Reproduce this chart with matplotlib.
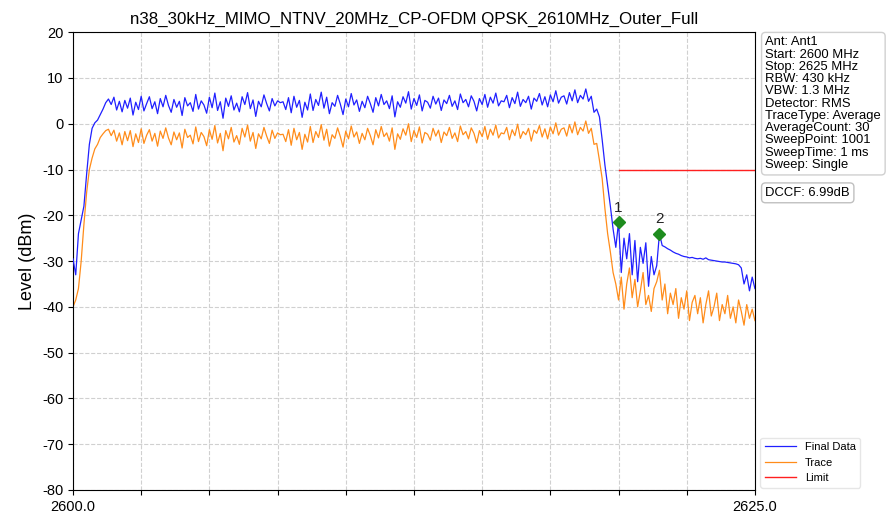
import numpy as np
import matplotlib
matplotlib.use("Agg")
import matplotlib.pyplot as plt

plt.rcParams['font.family'] = ['Liberation Sans', 'DejaVu Sans']
plt.rcParams['axes.unicode_minus'] = False

title = "n38_30kHz_MIMO_NTNV_20MHz_CP-OFDM QPSK_2610MHz_Outer_Full"

# sweep grid, 0.1 MHz steps from 2600 to 2625 MHz
freq = np.linspace(2600.0, 2625.0, 251)

# Final Data (dBm)
final_data = [
    -29.5, -33.0, -24.0, -21.0, -18.0, -11.0, -4.5, -1.0, 0.2, 0.8,
    2.0, 3.2, 4.6, 5.4, 4.2, 5.8, 3.0, 4.9, 2.6, 5.1,
    3.4, 5.6, 1.9, 4.7, 3.1, 6.0, 2.8, 4.4, 5.9, 3.3,
    4.8, 2.2, 5.5, 3.7, 6.2, 4.0, 2.5, 5.3, 3.6, 4.9,
    1.8, 5.7, 3.9, 4.6, 2.7, 6.4, 3.2, 5.0, 4.1, 2.3,
    5.8, 3.5, 6.7, 2.9, 4.8, 1.2, 5.6, 3.8, 6.1, 3.0,
    4.5, 2.6, 5.9, 4.2, 6.8, 3.3, 5.2, 1.6, 4.9, 3.7,
    6.3, 4.4, 2.8, 5.5, 3.9, 5.0, 4.6, 4.8, 3.1, 5.7,
    2.4, 6.0, 3.6, 5.1, 1.4, 4.7, 3.0, 6.5, 2.9, 5.3,
    4.0, 6.9, 3.4, 5.8, 2.2, 4.6, 3.8, 6.2, 4.3, 2.0,
    5.4, 3.7, 6.6, 4.1, 5.2, 2.7, 4.9, 3.5, 6.0, 4.4,
    2.5, 5.7, 3.9, 6.4, 4.2, 5.0, 3.3, 6.1, 1.5, 4.8,
    3.6, 5.9, 4.5, 7.0, 3.2, 5.5, 4.0, 6.3, 2.8, 5.1,
    4.7, 3.4, 6.0, 4.3, 5.6, 2.9, 5.2, 4.4, 6.2, 3.8,
    5.0, 3.1, 6.5, 4.6, 5.3, 3.7, 6.1, 4.9, 2.8, 5.5,
    4.2, 6.4, 3.6, 5.8, 4.5, 6.7, 3.9, 5.0, 4.8, 6.2,
    3.5, 5.7, 4.4, 6.9, 3.8, 5.3, 4.6, 6.0, 3.2, 5.6,
    4.9, 6.6, 4.1, 5.9, 3.7, 6.3, 4.8, 7.2, 4.5, 5.8,
    6.1, 4.3, 6.8, 5.0, 7.4, 4.6, 6.2, 5.4, 7.6, 4.9,
    6.0, 2.5, 3.2, 1.5, -3.5, -9.0, -13.5, -18.0, -23.0, -27.0,
    -21.5, -32.5, -25.0, -29.5, -24.0, -33.0, -25.5, -34.5, -27.0, -30.5,
    -26.0, -35.5, -29.0, -33.0, -31.0, -24.0, -26.6, -26.9, -27.3, -27.6,
    -28.0, -28.3, -28.5, -28.8, -29.0, -29.1, -29.3, -29.2, -29.4, -29.5,
    -29.4, -29.6, -29.3, -29.7, -29.8, -29.9, -30.0, -30.1, -30.2, -30.2,
    -30.3, -30.4, -30.5, -30.6, -30.8, -31.5, -35.0, -33.0, -36.5, -33.5,
    -36.0,
]

# Trace (dBm)
trace = [
    -40.0, -38.5, -36.0, -30.0, -22.0, -15.0, -10.0, -7.5, -5.5, -4.5,
    -3.0, -2.2, -1.5, -1.2, -2.6, -1.4, -3.8, -2.0, -4.6, -1.7,
    -3.7, -1.5, -5.0, -2.2, -4.1, -1.1, -4.3, -2.5, -1.3, -3.8,
    -2.1, -4.9, -1.6, -3.2, -0.9, -3.1, -4.6, -1.8, -3.5, -2.0,
    -5.3, -1.2, -3.0, -2.5, -4.4, -0.7, -3.9, -1.9, -2.8, -4.8,
    -1.3, -3.4, -0.4, -4.2, -2.1, -5.9, -1.5, -3.3, -0.8, -4.0,
    -2.6, -4.5, -1.0, -2.9, -0.3, -3.8, -1.9, -5.4, -2.2, -3.3,
    -0.8, -2.7, -4.3, -1.4, -3.2, -2.0, -2.4, -2.3, -3.9, -1.3,
    -4.7, -1.0, -3.5, -1.9, -5.6, -2.3, -4.0, -0.6, -4.1, -1.7,
    -3.0, -0.2, -3.6, -1.2, -4.9, -2.4, -3.2, -0.9, -2.8, -5.1,
    -1.6, -3.3, -0.5, -2.9, -1.8, -4.3, -2.1, -3.5, -1.0, -2.6,
    -4.6, -1.3, -3.1, -0.6, -2.8, -2.0, -3.8, -0.9, -5.6, -2.2,
    -3.4, -1.1, -2.5, 0.0, -3.9, -1.5, -3.0, -0.7, -4.2, -1.9,
    -2.3, -3.6, -1.0, -2.7, -1.4, -4.1, -1.8, -2.6, -0.8, -3.2,
    -2.0, -3.9, -0.5, -2.4, -1.7, -3.3, -0.9, -2.1, -4.2, -1.5,
    -2.8, -0.6, -3.4, -1.2, -2.5, -0.3, -3.1, -2.0, -2.2, -0.8,
    -3.5, -1.3, -2.6, -0.1, -3.2, -1.7, -2.4, -1.0, -3.8, -1.4,
    -2.1, -0.4, -2.9, -1.1, -3.3, -0.7, -2.2, 0.2, -2.5, -1.2,
    -0.9, -2.7, -0.2, -2.0, 0.4, -2.4, -0.8, -1.6, 0.6, -2.1,
    -1.0, -4.5, -4.3, -8.0, -12.0, -18.5, -24.0, -28.0, -32.5, -35.0,
    -38.5, -33.5, -40.5, -35.0, -31.5, -38.0, -34.0, -40.0, -36.5, -32.5,
    -39.5, -37.5, -41.0, -36.0, -34.5, -32.0, -38.5, -35.0, -41.5, -37.0,
    -39.5, -36.0, -42.5, -38.0, -40.5, -36.5, -43.0, -39.0, -37.5, -41.5,
    -38.0, -43.5, -39.5, -36.5, -42.0, -40.0, -37.0, -43.0, -39.5, -41.5,
    -37.5, -42.5, -40.0, -43.5, -38.5, -41.0, -44.0, -39.5, -42.5, -40.5,
    -43.0,
]

limit_freq = [2620.0, 2625.0]
limit_level = [-10.0, -10.0]

marker_idx = [200, 215]   # marker 1 at 2620.0, marker 2 at 2621.5 MHz
marker_names = ["1", "2"]

info_lines = [
    "Ant: Ant1", "Start: 2600 MHz", "Stop: 2625 MHz", "RBW: 430 kHz",
    "VBW: 1.3 MHz", "Detector: RMS", "TraceType: Average",
    "AverageCount: 30", "SweepPoint: 1001", "SweepTime: 1 ms",
    "Sweep: Single",
]
dccf = "DCCF: 6.99dB"

fig = plt.figure(figsize=(8.87, 5.19), dpi=100)
ax = fig.add_axes([0.0823, 0.0559, 0.7688, 0.8821])

ax.plot(freq, final_data, color='#2020ff', lw=0.9, label='Final Data', zorder=3)
ax.plot(freq, trace, color='#ff8c1a', lw=0.9, label='Trace', zorder=2)
ax.plot(limit_freq, limit_level, color='#ff2020', lw=1.0, label='Limit', zorder=2)

for i, name in zip(marker_idx, marker_names):
    ax.plot(freq[i], final_data[i], 'D', color='#1e8c1e', ms=6, zorder=5)
    ax.text(freq[i], final_data[i] + 1.6, name, ha='center', va='bottom',
            fontsize=11, color='#222222', zorder=5)

ax.set_xlim(2600, 2625)
ax.set_ylim(-80, 20)
ax.set_yticks(np.arange(-80, 21, 10))
xt = np.arange(2600, 2625.1, 2.5)
ax.set_xticks(xt)
ax.set_xticklabels(['2600.0'] + [''] * (len(xt) - 2) + ['2625.0'])
ax.tick_params(labelsize=10.5)
ax.grid(True, color='#d0d0d0', ls='--', lw=0.8)
ax.set_axisbelow(True)
ax.set_ylabel('Level (dBm)', fontsize=13)
ax.set_title(title, fontsize=12.2, pad=6)

ax.legend(loc='lower left', bbox_to_anchor=(1.008, 0.005), fontsize=8,
          handlelength=2.8, frameon=True, edgecolor='#e0e0e0', borderaxespad=0)

fig.text(0.863, 0.93, "\n".join(info_lines), fontsize=9.4, va='top', ha='left',
         linespacing=1.03,
         bbox=dict(boxstyle='round,pad=0.3', fc='white', ec='#d0d0d0'))
fig.text(0.863, 0.64, dccf, fontsize=9.4, va='top', ha='left',
         bbox=dict(boxstyle='round,pad=0.3', fc='white', ec='#c0c0c0'))

fig.savefig('out.png', dpi=100)
